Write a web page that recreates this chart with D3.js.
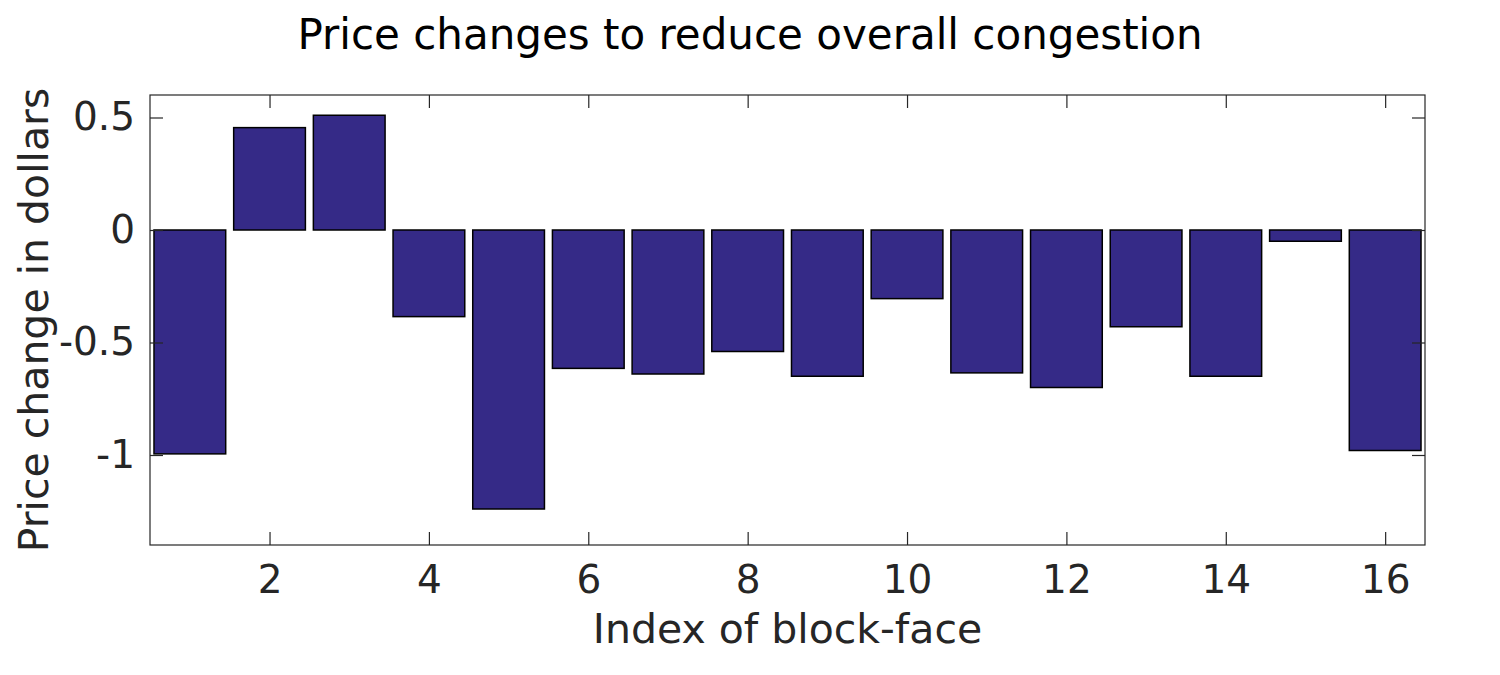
<!DOCTYPE html>
<html>
<head>
<meta charset="utf-8">
<script src="https://cdn.jsdelivr.net/npm/d3@7"></script>
<style>
  body { margin: 0; background: #fff; }
  text { font-family: "DejaVu Sans", sans-serif; fill: #262626; }
</style>
</head>
<body>
<div id="canvas"></div>
<script>
"use strict"

// data
let blockIndex = [1, 2, 3, 4, 5, 6, 7, 8, 9, 10, 11, 12, 13, 14, 15, 16];
let priceChange = [-0.995, 0.455, 0.51, -0.385, -1.24, -0.615, -0.64, -0.54, -0.65, -0.305, -0.635, -0.70, -0.43, -0.65, -0.05, -0.98];
let xTicks = [2, 4, 6, 8, 10, 12, 14, 16];
let yTicks = [-1, -0.5, 0, 0.5];

let width = 1500, height = 675;
let plotLeft = 150, plotRight = 1425, plotTop = 95, plotBottom = 545;

let drawing = d3.select("#canvas")
    .append("svg")
    .attr("width", width)
    .attr("height", height);

let x = d3.scaleLinear().domain([0.5, 16.5]).range([plotLeft, plotRight]);
let y = d3.scaleLinear().domain([-1.4, 0.6]).range([plotBottom, plotTop]);

/* bars */
let barW = 0.9;
drawing.append("g")
    .selectAll("rect")
    .data(blockIndex)
    .join("rect")
    .attr("x", (d) => x(d - barW / 2))
    .attr("width", (d) => x(barW) - x(0))
    .attr("y", (d, i) => y(Math.max(0, priceChange[i])))
    .attr("height", (d, i) => Math.abs(y(priceChange[i]) - y(0)))
    .attr("fill", "#352A87")
    .attr("stroke", "black")
    .attr("stroke-width", 1.5);

/* axes, ticks pointing inward on all four sides */
let tickLen = 13;
let axisColor = "#262626";

let bottomAxis = drawing.append("g")
    .attr("transform", `translate(0,${plotBottom})`)
    .call(d3.axisBottom(x).tickValues(xTicks).tickSize(-tickLen).tickPadding(20).tickFormat(d3.format("d")));
let topAxis = drawing.append("g")
    .attr("transform", `translate(0,${plotTop})`)
    .call(d3.axisTop(x).tickValues(xTicks).tickSize(-tickLen).tickFormat(""));
let leftAxis = drawing.append("g")
    .attr("transform", `translate(${plotLeft},0)`)
    .call(d3.axisLeft(y).tickValues(yTicks).tickSize(-tickLen).tickPadding(15).tickFormat((d) => d === 0 ? "0" : String(d)));
let rightAxis = drawing.append("g")
    .attr("transform", `translate(${plotRight},0)`)
    .call(d3.axisRight(y).tickValues(yTicks).tickSize(-tickLen).tickFormat(""));

[bottomAxis, topAxis, leftAxis, rightAxis].forEach((g) => {
    g.select(".domain").remove();
    g.selectAll(".tick line").attr("stroke", axisColor).attr("stroke-width", 1.2);
    g.selectAll(".tick text")
        .attr("font-family", "DejaVu Sans, sans-serif")
        .attr("font-size", 39)
        .attr("fill", axisColor);
});

/* box round the axes */
let border = drawing.append("rect")
    .attr("x", plotLeft)
    .attr("y", plotTop)
    .attr("width", plotRight - plotLeft)
    .attr("height", plotBottom - plotTop)
    .attr("fill", "none")
    .attr("stroke", axisColor)
    .attr("stroke-width", 1.2);

/* title and labels */
let title = drawing.append("text")
    .attr("x", 750)
    .attr("y", 49)
    .attr("text-anchor", "middle")
    .attr("font-size", 42)
    .style("fill", "#000")
    .text("Price changes to reduce overall congestion");

let xLabel = drawing.append("text")
    .attr("x", (plotLeft + plotRight) / 2)
    .attr("y", 643)
    .attr("text-anchor", "middle")
    .attr("font-size", 41)
    .text("Index of block-face");

let yLabel = drawing.append("text")
    .attr("transform", `translate(48,${(plotTop + plotBottom) / 2}) rotate(-90)`)
    .attr("text-anchor", "middle")
    .attr("font-size", 41)
    .text("Price change in dollars");
</script>
</body>
</html>
